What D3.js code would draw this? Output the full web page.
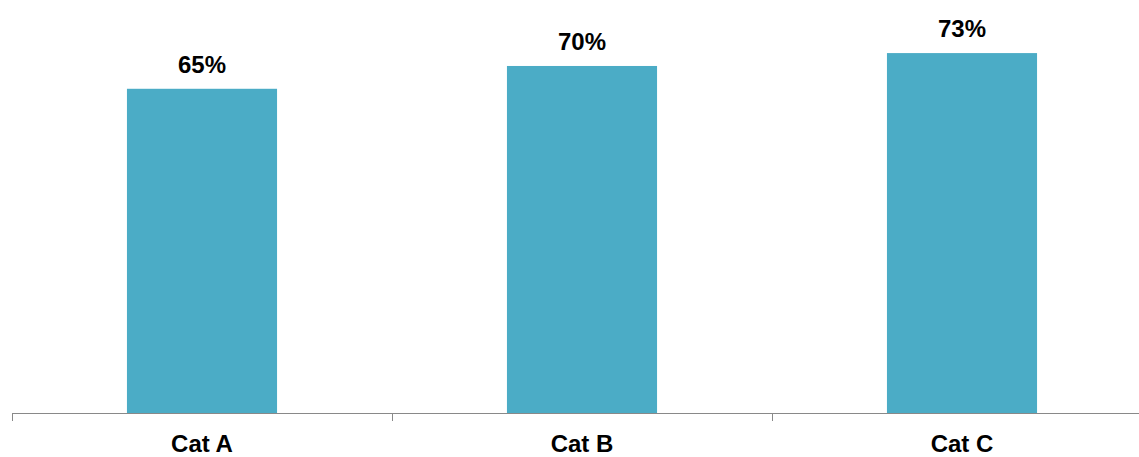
<!DOCTYPE html>
<html><head><meta charset="utf-8">
<script src="https://cdn.jsdelivr.net/npm/d3@7"></script>
<style>body{margin:0;background:#fff;}svg{display:block;}</style>
</head><body>
<svg id="c" width="1139" height="457"></svg>
<script>
const categories = ["Cat A", "Cat B", "Cat C"];
const values = [0.654, 0.700, 0.726];
const valueLabels = ["65%", "70%", "73%"];

const svg = d3.select("#c");
const x = d3.scaleBand().domain(categories).range([12, 1152]).padding(0);
const y = d3.scaleLinear().domain([0, 0.8]).range([413, 16.4]);
const barW = x.bandwidth() * 0.395;
const font = "'Liberation Sans', Arial, sans-serif";

svg.selectAll("rect.bar").data(categories).enter().append("rect")
  .attr("x", d => x(d) + (x.bandwidth() - barW) / 2)
  .attr("y", (d, i) => y(values[i]))
  .attr("width", barW)
  .attr("height", (d, i) => y(0) - y(values[i]))
  .attr("fill", "#4BACC6");

// axis
const ax = svg.append("g");
ax.append("line").attr("x1", 12).attr("x2", 1152).attr("y1", 413.5).attr("y2", 413.5)
  .attr("stroke", "#898989").attr("stroke-width", 1);
const tickPos = categories.map(d => x(d)).concat([x.range()[1]]);
ax.selectAll("line.t").data(tickPos).enter().append("line")
  .attr("x1", d => Math.round(d) + 0.5).attr("x2", d => Math.round(d) + 0.5)
  .attr("y1", 413).attr("y2", 421)
  .attr("stroke", "#898989").attr("stroke-width", 1);

svg.selectAll("text.cat").data(categories).enter().append("text")
  .attr("x", d => x(d) + x.bandwidth() / 2)
  .attr("y", 452)
  .attr("text-anchor", "middle")
  .attr("font-family", font).attr("font-weight", "bold").attr("font-size", 24)
  .attr("fill", "#000")
  .text(d => d);

svg.selectAll("text.val").data(categories).enter().append("text")
  .attr("x", d => x(d) + x.bandwidth() / 2)
  .attr("y", (d, i) => y(values[i]) - 16)
  .attr("text-anchor", "middle")
  .attr("font-family", font).attr("font-weight", "bold").attr("font-size", 24)
  .attr("fill", "#000")
  .text((d, i) => valueLabels[i]);
</script>
</body></html>
